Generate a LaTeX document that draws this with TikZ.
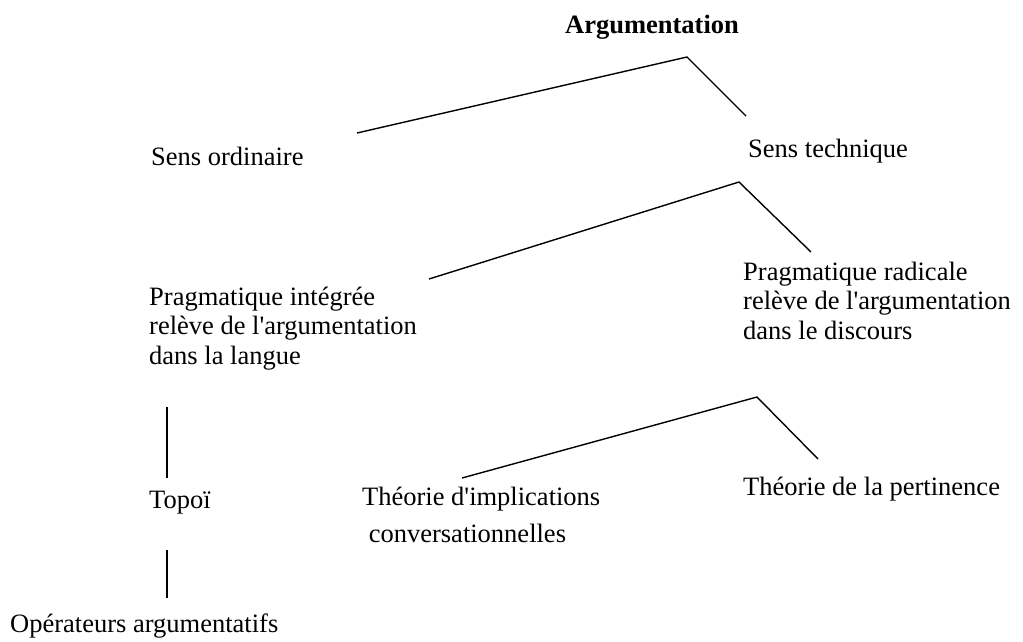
\documentclass[tikz,border=0pt]{standalone}
\usepackage{fontspec}
\setmainfont{Liberation Serif}
\begin{document}
\begin{tikzpicture}[x=1pt,y=-1pt]
\tikzset{
  lbl/.style={anchor=base west, inner sep=0pt, font=\fontsize{26.5}{29.5}\selectfont},
  ttl/.style={lbl, font=\fontsize{26.5}{29.5}\selectfont\bfseries},
  branch/.style={line width=1.4pt, line join=miter},
}
\useasboundingbox (0,0) rectangle (1023,641);
% texts
\node[ttl] (arg) at (565,33) {Argumentation};
\node[lbl] (so) at (151,165) {Sens ordinaire};
\node[lbl] (st) at (748,157) {Sens technique};
\node[lbl] (pi) at (149,305) {\vtop{\hbox{Pragmatique intégrée}\hbox{relève de l\textquotesingle argumentation}\hbox{dans la langue}}};
\node[lbl] (pr) at (743,280) {\vtop{\hbox{Pragmatique radicale}\hbox{relève de l\textquotesingle argumentation}\hbox{dans le discours}}};
\node[lbl] (top) at (149,508) {Topoï};
\node[lbl] (op) at (10,632) {Opérateurs argumentatifs};
\node[lbl] (ti) at (362,505) {\vtop{\baselineskip=37pt\hbox{Théorie d\textquotesingle implications}\hbox{ conversationnelles}}};
\node[lbl] (tp) at (743,495) {Théorie de la pertinence};
% branch points
\coordinate (a1) at (357,133); \coordinate (a0) at (687,57); \coordinate (a2) at (746,116);
\coordinate (b1) at (429,279); \coordinate (b0) at (739,182); \coordinate (b2) at (811,252);
\coordinate (c1) at (462,478); \coordinate (c0) at (757,397); \coordinate (c2) at (818,459);
\coordinate (v1t) at (167,407); \coordinate (v1b) at (167,478);
\coordinate (v2t) at (167,550); \coordinate (v2b) at (167,598);
% connectors
\draw[branch] (a1) -- (a0) -- (a2);
\draw[branch] (b1) -- (b0) -- (b2);
\draw[branch] (c1) -- (c0) -- (c2);
\draw[branch] (v1t) -- (v1b);
\draw[branch] (v2t) -- (v2b);
\end{tikzpicture}
\end{document}
